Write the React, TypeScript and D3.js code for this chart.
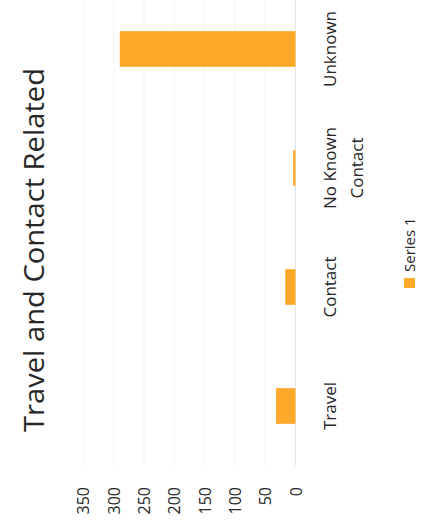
import React from "react";
import * as d3 from "d3";

const categories: string[][] = [["Travel"], ["Contact"], ["No Known", "Contact"], ["Unknown"]];
const categoryKeys = ["Travel", "Contact", "No Known Contact", "Unknown"];
const series1 = [32, 17, 4, 290];
const ticks = [0, 50, 100, 150, 200, 250, 300, 350];
const title = "Travel and Contact Related";
const seriesName = "Series 1";

const W = 425;
const H = 529;
const FONT = "'Open Sans', 'DejaVu Sans', sans-serif";
const BAR = "#ffa92b";
const TEXT = "#262626";

export default function App() {
  // unrotated frame: u along H (529), v along W (425)
  const x = d3.scaleBand<string>().domain(categoryKeys).range([63.5, 539.5]).paddingInner(0.7).paddingOuter(0.35);
  const y = d3.scaleLinear().domain([0, 350]).range([295.5, 83.4]);

  return (
    <svg width={W} height={H} style={{ position: "absolute", left: 0, top: 0, background: "#fff" }} fontFamily={FONT}>
      <rect width={W} height={H} fill="#fff" />
      <g transform={`translate(0,${H}) rotate(-90)`}>
        {ticks.map((t) => (
          <line key={"g" + t} x1={63.5} x2={H} y1={y(t)} y2={y(t)} stroke={t === 0 ? "#e3e3e3" : "#f5f5f5"} strokeWidth={1} />
        ))}
        {ticks.map((t) => (
          <text key={"t" + t} x={42} y={y(t)} dominantBaseline="central" textAnchor="end" fontSize={16} fill={TEXT}>
            {t}
          </text>
        ))}
        {categoryKeys.map((k, i) => (
          <rect key={k} x={x(k)!} width={x.bandwidth()} y={y(series1[i])} height={y(0) - y(series1[i])} fill={BAR} />
        ))}
        {categoryKeys.map((k, i) => (
          <text key={"c" + k} x={x(k)! + x.bandwidth() / 2} y={336} textAnchor="middle" fontSize={17} fill={TEXT}>
            {categories[i].map((line, j) => (
              <tspan key={j} x={x(k)! + x.bandwidth() / 2} dy={j === 0 ? 0 : 27}>
                {line}
              </tspan>
            ))}
          </text>
        ))}
        <text x={279} y={44} textAnchor="middle" fontSize={27} fill={TEXT} textLength={364} lengthAdjust="spacingAndGlyphs">
          {title}
        </text>
        <rect x={241} y={404} width={10} height={11} fill={BAR} />
        <text x={257} y={415} fontSize={15} fill={TEXT}>
          {seriesName}
        </text>
      </g>
    </svg>
  );
}
